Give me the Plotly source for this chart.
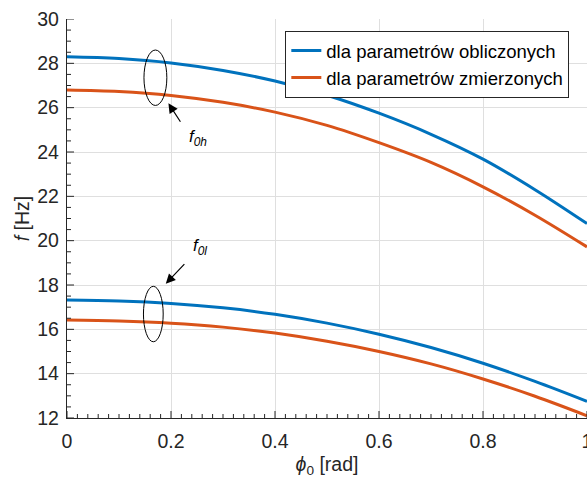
import plotly.graph_objects as go

phi = [0.0, 0.1, 0.2, 0.3, 0.4, 0.5, 0.6, 0.7, 0.8, 0.9, 1.0]
f0h_obl = [28.3, 28.22, 28.02, 27.68, 27.2, 26.56, 25.75, 24.8, 23.68, 22.3, 20.77]
f0h_zm = [26.8, 26.73, 26.55, 26.24, 25.8, 25.2, 24.42, 23.53, 22.43, 21.15, 19.72]
f0l_obl = [17.32, 17.28, 17.17, 16.97, 16.68, 16.28, 15.78, 15.18, 14.47, 13.65, 12.75]
f0l_zm = [16.42, 16.38, 16.28, 16.1, 15.83, 15.46, 15.0, 14.44, 13.76, 12.98, 12.1]

x_ticks = [0, 0.2, 0.4, 0.6, 0.8, 1]
x_tick_labels = ["0", "0.2", "0.4", "0.6", "0.8", "1"]
y_ticks = [12, 14, 16, 18, 20, 22, 24, 26, 28, 30]

BLUE = "#0072BD"
ORANGE = "#D95319"
TXT = "#262626"
FONT = "Liberation Sans, Arial, sans-serif"

fig = go.Figure(layout_template="none")
fig.add_trace(go.Scatter(x=phi, y=f0h_obl, mode="lines", line=dict(color=BLUE, width=3, shape="spline"),
                         name="dla parametrów obliczonych"))
fig.add_trace(go.Scatter(x=phi, y=f0h_zm, mode="lines", line=dict(color=ORANGE, width=3, shape="spline"),
                         name="dla parametrów zmierzonych"))
fig.add_trace(go.Scatter(x=phi, y=f0l_obl, mode="lines", line=dict(color=BLUE, width=3, shape="spline"),
                         showlegend=False))
fig.add_trace(go.Scatter(x=phi, y=f0l_zm, mode="lines", line=dict(color=ORANGE, width=3, shape="spline"),
                         showlegend=False))

# tick marks (inside), drawn on the axes' own scales
shapes = []
for i in range(0, 51):
    v = i * 0.02
    major = (i % 10 == 0)
    shapes.append(dict(type="line", xref="x", yref="paper", x0=v, x1=v,
                       ysizemode="pixel", yanchor=0, y0=0, y1=7 if major else 4,
                       line=dict(color=TXT, width=1), layer="above"))
for i in range(0, 37):
    v = 12 + i * 0.5
    major = (i % 4 == 0)
    shapes.append(dict(type="line", xref="paper", yref="y", y0=v, y1=v,
                       xsizemode="pixel", xanchor=0, x0=0, x1=7 if major else 4,
                       line=dict(color=TXT, width=1), layer="above"))

# ellipses
shapes.append(dict(type="circle", xref="x", yref="y", x0=0.148, x1=0.192, y0=26.1, y1=28.6,
                   line=dict(color="black", width=1)))
shapes.append(dict(type="circle", xref="x", yref="y", x0=0.147, x1=0.185, y0=15.44, y1=17.94,
                   line=dict(color="black", width=1)))

# arrows
fig.add_annotation(x=0.195, y=26.2, xref="x", yref="y", ax=13, ay=20, text="",
                   showarrow=True, arrowhead=2, arrowsize=1.6, arrowwidth=1.2, arrowcolor="black")
fig.add_annotation(x=0.19, y=18.06, xref="x", yref="y", ax=20, ay=-21, text="",
                   showarrow=True, arrowhead=2, arrowsize=1.6, arrowwidth=1.2, arrowcolor="black")
fig.add_annotation(x=0.252, y=24.62, xref="x", yref="y", text="<i>f</i><sub><i>0h</i></sub>",
                   showarrow=False, font=dict(family=FONT, size=17, color="black"))
fig.add_annotation(x=0.256, y=19.7, xref="x", yref="y", text="<i>f</i><sub><i>0l</i></sub>",
                   showarrow=False, font=dict(family=FONT, size=17, color="black"))

fig.update_layout(
    width=587, height=481,
    margin=dict(l=67, r=0, t=19, b=63),
    paper_bgcolor="white", plot_bgcolor="white",
    font=dict(family=FONT, color=TXT, size=19),
    showlegend=True,
    shapes=shapes,
    legend=dict(x=0.966, y=0.97, xanchor="right", yanchor="top",
                bgcolor="white", bordercolor=TXT, borderwidth=1,
                font=dict(family=FONT, size=18.5, color="black"),
                tracegroupgap=0, itemwidth=30),
    xaxis=dict(
        range=[0, 1], tickmode="array", tickvals=x_ticks, ticktext=x_tick_labels,
        showgrid=True, gridcolor="#dfdfdf", gridwidth=1,
        showline=True, linecolor=TXT, linewidth=1.3,
        ticks="", zeroline=False, ticklabeloverflow="allow", ticklabelstandoff=5,
        tickfont=dict(size=19.5, color=TXT),
        title=dict(text="<i>ϕ</i><sub>0</sub> [rad]", font=dict(size=19.5, color=TXT), standoff=6),
    ),
    yaxis=dict(
        range=[12, 30], tickmode="array", tickvals=y_ticks,
        showgrid=True, gridcolor="#dfdfdf", gridwidth=1,
        showline=True, linecolor=TXT, linewidth=1.3,
        ticks="", zeroline=False, ticklabeloverflow="allow", ticklabelstandoff=3,
        tickfont=dict(size=19.5, color=TXT),
        title=dict(text="<i>f</i> [Hz]", font=dict(size=19.5, color=TXT), standoff=2),
    ),
)

fig.write_html("out.html", config={"displayModeBar": False},
               post_script="document.body.style.margin='0px';document.body.style.overflow='hidden';")
